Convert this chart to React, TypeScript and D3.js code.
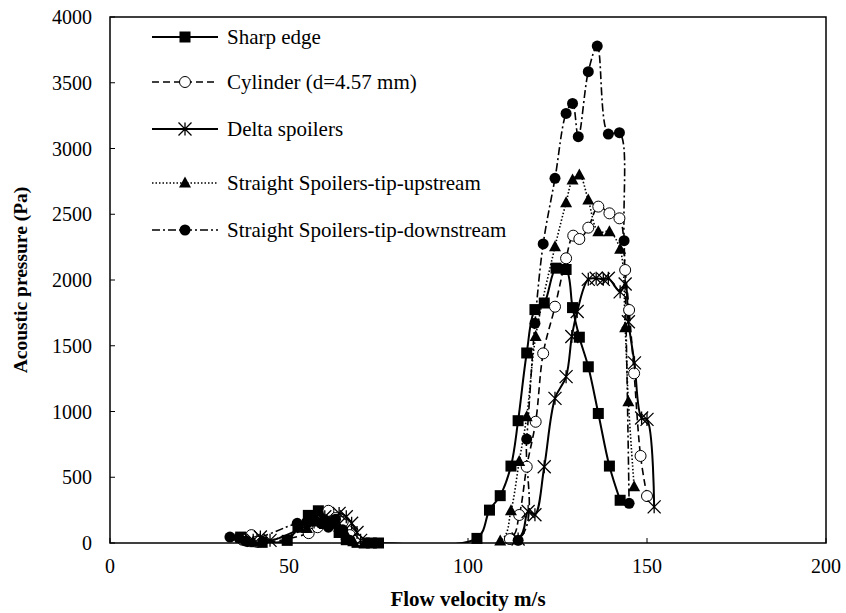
import React from "react";
import * as d3 from "d3";

const xTicks = [0, 50, 100, 150, 200];
const yTicks = [0, 500, 1000, 1500, 2000, 2500, 3000, 3500, 4000];

const seriesNames = [
  "Sharp edge",
  "Cylinder (d=4.57 mm)",
  "Delta spoilers",
  "Straight Spoilers-tip-upstream",
  "Straight Spoilers-tip-downstream",
];

const sharpV = [36.5, 38.5, 40.5, 42.5, 49.5, 52.5, 55.4, 58.2, 60, 62, 64, 66, 69, 71, 73, 75, 102.5, 106, 109, 112, 114, 116.4, 118.7, 121.3, 124.6, 127.4, 129.2, 131.1, 133.6, 136.4, 139.5, 142.5];
const sharpP = [45, 20, 10, 5, 20, 120, 210, 245, 190, 150, 80, 25, 5, 0, 0, 0, 35, 250, 360, 585, 930, 1445, 1775, 1825, 2090, 2080, 1790, 1565, 1340, 985, 585, 325];

const cylV = [37, 38.5, 39.5, 41, 55.5, 58, 61, 63, 65, 67, 69, 111.7, 114.3, 116.4, 118.9, 121, 124.3, 127.4, 129.4, 131.1, 133.6, 136.4, 139.5, 142.3, 143.9, 145, 146.4, 148.2, 150];
const cylP = [25, 15, 60, 10, 75, 120, 245, 190, 160, 60, 20, 30, 213, 580, 922, 1442, 1797, 2165, 2337, 2312, 2398, 2558, 2507, 2469, 2076, 1772, 1290, 662, 357];

const deltaV = [40, 42, 44.7, 57, 60, 62, 64, 66, 67.5, 69, 70, 114, 116.8, 118.7, 121.3, 124.3, 127.4, 129, 130.5, 133.6, 135.8, 137.8, 139.2, 142.5, 143.9, 144.8, 146.5, 148.5, 150, 152];
const deltaP = [20, 45, 20, 160, 200, 170, 225, 200, 150, 80, 20, 30, 240, 215, 580, 1100, 1265, 1570, 1760, 2005, 2013, 2005, 2013, 1910, 1970, 1683, 1370, 950, 940, 275];

const upV = [38, 40, 42, 55, 57.5, 60, 62, 64, 66, 68, 109, 112, 114.3, 116.4, 118.9, 124.3, 127.4, 129.2, 131.1, 133.6, 136.4, 139.5, 142.5, 143.9, 144.8, 146.4];
const upP = [20, 10, 5, 110, 160, 140, 170, 120, 60, 10, 15, 245, 620, 960, 1570, 2253, 2588, 2760, 2798, 2608, 2367, 2367, 2233, 1637, 1075, 428];

const downV = [33.5, 36, 38, 52.3, 55, 57, 59, 61, 63, 65, 67, 114, 116.4, 118.7, 121, 124.3, 127.4, 129.2, 130.8, 133.6, 136.1, 139.2, 142.3, 143.6, 145];
const downP = [45, 40, 15, 150, 160, 180, 150, 120, 180, 100, 20, 20, 790, 1671, 2274, 2773, 3267, 3343, 3090, 3584, 3779, 3110, 3120, 2299, 302];

const W = 846, H = 613;
const L = 110, R = 826, T = 17, B = 543;
const FONT = "'Liberation Serif', 'Times New Roman', serif";

type Kind = "square" | "circleOpen" | "star" | "triangle" | "circleFilled";

function Marker({ kind, x, y }: { kind: Kind; x: number; y: number }) {
  if (kind === "square") return <rect x={x - 5.5} y={y - 5.5} width={11} height={11} fill="#000" />;
  if (kind === "circleOpen") return <circle cx={x} cy={y} r={5.5} fill="#fff" stroke="#000" strokeWidth={1} />;
  if (kind === "circleFilled") return <circle cx={x} cy={y} r={5.5} fill="#000" />;
  if (kind === "triangle") return <path d={`M${x},${y - 6.5}L${x + 6},${y + 4.5}L${x - 6},${y + 4.5}Z`} fill="#000" />;
  const s = 6.5;
  return (
    <path
      d={`M${x - s},${y - s}L${x + s},${y + s}M${x - s},${y + s}L${x + s},${y - s}M${x},${y - s}L${x},${y + s}`}
      stroke="#000"
      strokeWidth={1.3}
      fill="none"
    />
  );
}

export default function App() {
  const x = d3.scaleLinear().domain([0, 200]).range([L, R]);
  const y = d3.scaleLinear().domain([0, 4000]).range([B, T]);

  const series = [
    { name: seriesNames[0], v: sharpV, p: sharpP, kind: "square" as Kind, dash: "", sw: 2 },
    { name: seriesNames[1], v: cylV, p: cylP, kind: "circleOpen" as Kind, dash: "7,4", sw: 1.6 },
    { name: seriesNames[2], v: deltaV, p: deltaP, kind: "star" as Kind, dash: "", sw: 2 },
    { name: seriesNames[3], v: upV, p: upP, kind: "triangle" as Kind, dash: "1.5,2", sw: 1.6 },
    { name: seriesNames[4], v: downV, p: downP, kind: "circleFilled" as Kind, dash: "8,3,2,3", sw: 1.6 },
  ];

  const line = d3
    .line<[number, number]>()
    .x((d) => x(d[0]))
    .y((d) => y(d[1]))
    .curve(d3.curveCatmullRom.alpha(0.5));

  const legendY = [37, 82, 129, 183, 230];

  return (
    <svg width={W} height={H} style={{ position: "absolute", left: 0, top: 0, background: "#fff" }} fontFamily={FONT}>
      <defs>
        <clipPath id="plotClip">
          <rect x={L} y={T} width={R - L} height={B - T} />
        </clipPath>
      </defs>
      <rect x={0} y={0} width={W} height={H} fill="#fff" />
      <g clipPath="url(#plotClip)">
        {series.map((s, i) => {
          const pts = s.v.map((v, j) => [v, s.p[j]] as [number, number]);
          return (
            <path key={i} d={line(pts) || ""} fill="none" stroke="#000" strokeWidth={s.sw} strokeDasharray={s.dash || undefined} />
          );
        })}
      </g>
      {series.map((s, i) => (
        <g key={"m" + i}>
          {s.v.map((v, j) => (
            <Marker key={j} kind={s.kind} x={x(v)} y={y(s.p[j])} />
          ))}
        </g>
      ))}
      <rect x={L} y={T} width={R - L} height={B - T} fill="none" stroke="#000" strokeWidth={1.5} />
      {xTicks.map((t) => (
        <g key={"x" + t}>
          <line x1={x(t)} x2={x(t)} y1={B} y2={B - 5} stroke="#000" strokeWidth={1} />
          <text x={x(t)} y={B + 30} fontSize={20} textAnchor="middle">{t}</text>
        </g>
      ))}
      {yTicks.map((t) => (
        <g key={"y" + t}>
          <line x1={L} x2={L + 5} y1={y(t)} y2={y(t)} stroke="#000" strokeWidth={1} />
          <text x={L - 18} y={y(t)} dy="0.35em" fontSize={20} textAnchor="end">{t}</text>
        </g>
      ))}
      <text x={(L + R) / 2} y={606} fontSize={21} fontWeight="bold" textAnchor="middle">Flow velocity m/s</text>
      <text transform={`translate(27,${(T + B) / 2}) rotate(-90)`} fontSize={19.5} fontWeight="bold" textAnchor="middle">Acoustic pressure (Pa)</text>
      {series.map((s, i) => (
        <g key={"l" + i}>
          <line x1={152} x2={218} y1={legendY[i]} y2={legendY[i]} stroke="#000" strokeWidth={s.sw} strokeDasharray={s.dash || undefined} />
          <Marker kind={s.kind} x={185} y={legendY[i]} />
          <text x={227} y={legendY[i]} dy="0.35em" fontSize={21}>{s.name}</text>
        </g>
      ))}
    </svg>
  );
}
